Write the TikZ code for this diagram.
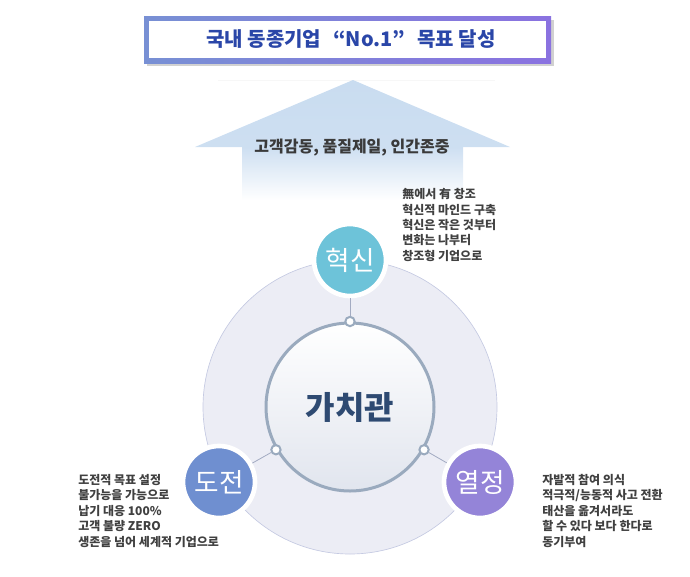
\documentclass[tikz,border=0pt]{standalone}
\usepackage{fontspec}
\setmainfont{Noto Sans CJK KR}
\usetikzlibrary{shadows}
\definecolor{titleblue}{HTML}{2A46A8}
\definecolor{frameleft}{HTML}{7890D4}
\definecolor{framemid}{HTML}{6EC6D8}
\definecolor{frameright}{HTML}{8A72E0}
\definecolor{arrowblue}{HTML}{C9DCF0}
\definecolor{mottotext}{HTML}{3A3A3A}
\definecolor{fieldfill}{HTML}{ECEDF5}
\definecolor{fieldline}{HTML}{C5CAE2}
\definecolor{ringgray}{HTML}{9AAABE}
\definecolor{corebottom}{HTML}{E1E5EE}
\definecolor{coretext}{HTML}{2E4A72}
\definecolor{linkgray}{HTML}{A3ABC2}
\definecolor{innovc}{HTML}{6DC3D9}
\definecolor{challc}{HTML}{6F8FD0}
\definecolor{passc}{HTML}{9484D8}
\definecolor{desctext}{HTML}{404040}
\begin{document}
\begin{tikzpicture}[x=0.75pt,y=-0.75pt,
  sat/.style={circle, draw=white, line width=3.5pt, minimum size=54pt, text=white,
    font=\fontsize{20}{20}\selectfont,
    drop shadow={opacity=0.18, shadow xshift=0pt, shadow yshift=-1.5pt}},
  dot/.style={circle, draw=ringgray, fill=white, line width=1.5pt, minimum size=7pt, inner sep=0pt},
  link/.style={draw=linkgray, line width=0.6pt},
  desc/.style={align=left, anchor=north west, inner sep=0pt, text=desctext,
    font=\bfseries\fontsize{9}{11.6}\selectfont}]
\useasboundingbox (0,0) rectangle (690,576);

% goal box
\fill[black!18] (147,20) rectangle (554,66);
\shade[left color=frameleft, middle color=framemid, right color=frameright] (144,16) rectangle (551,63);
\fill[white] (149,21) rectangle (546,58);
\node[font=\bfseries\fontsize{15}{15}\selectfont, text=titleblue] (goal) at (351,39.5) {국내 동종기업\hspace{9pt}“No.1”\hspace{9pt}목표 달성};

% arrow
\draw[black!3] (218,80) -- (495,80);
\shade[top color=arrowblue, bottom color=arrowblue!92!white] (353,80) -- (510,147) -- (195,147) -- cycle;
\shade[top color=arrowblue!92!white, bottom color=white] (242,147) rectangle (463,200);
\node[font=\bfseries\fontsize{12}{12}\selectfont, text=mottotext] (motto) at (352,148) {고객감동, 품질제일, 인간존중};

% circles
\node[circle, minimum size=220.5pt, fill=fieldfill, draw=fieldline, line width=0.5pt] (field) at (350,407) {};
\node[circle, minimum size=126pt, draw=ringgray, line width=2.25pt, top color=white, bottom color=corebottom,
  text=coretext, font=\bfseries\fontsize{24}{24}\selectfont] (core) at (350,407) {가치관};

\node[sat, fill=innovc] (innov) at (350,260) {혁신};
\node[sat, fill=challc] (chall) at (219,482) {도전};
\node[sat, fill=passc] (pass) at (480,482) {열정};

\node[dot] (dtop) at (core.north) {};
\node[dot] (dleft) at (core.210) {};
\node[dot] (dright) at (core.330) {};

\draw[link] (dtop) -- (innov);
\draw[link] (dleft) -- (chall);
\draw[link] (dright) -- (pass);

% texts
\node[desc] (innovtext) at (402,188) {無에서 有 창조\\혁신적 마인드 구축\\혁신은 작은 것부터\\변화는 나부터\\창조형 기업으로};
\node[desc] (challtext) at (78,474) {도전적 목표 설정\\불가능을 가능으로\\납기 대응 100\%\\고객 불량 ZERO\\생존을 넘어 세계적 기업으로};
\node[desc] (passtext) at (542,474) {자발적 참여 의식\\적극적/능동적 사고 전환\\태산을 옮겨서라도\\할 수 있다 보다 한다로\\동기부여};
\end{tikzpicture}
\end{document}
